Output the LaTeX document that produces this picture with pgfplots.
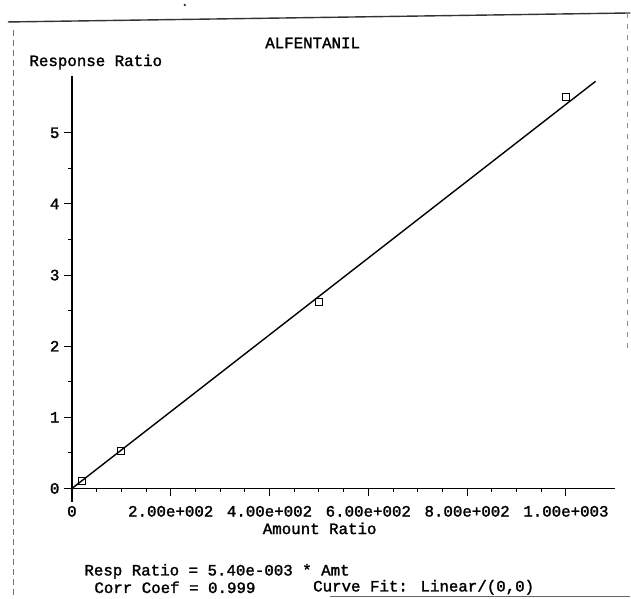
\documentclass[border=0pt]{standalone}
\usepackage{pgfplots}
\pgfplotsset{compat=1.18}
\usepackage{fontspec}
\setmainfont{Liberation Mono}[BoldFont=Liberation Mono, BoldFeatures={FakeBold=1.6}]
\begin{document}
\begin{tikzpicture}[x=1pt,y=1pt,font=\fontsize{15.8}{18}\selectfont\bfseries]
% page area
\path[fill=white] (0,0) rectangle (631,599);
% printout frame
\draw[line width=1.4pt,black!80] (8,577) -- (631,586);
\draw[line width=0.8pt,black!55,dash pattern=on 6pt off 4pt] (13,569) -- (13,0);
\draw[line width=0.8pt,black!45,dash pattern=on 5pt off 6pt] (628,586) -- (628,250);
\draw[line width=1pt,black!60] (330,1.5) -- (631,1.5);
\fill[black!80] (185,594) circle (1.3);

\begin{axis}[
  at={(72pt,110pt)}, anchor=south west,
  scale only axis, width=544pt, height=413pt,
  xmin=0, xmax=1100, ymin=0, ymax=5.8,
  axis lines*=left,
  axis line style={line width=1.5pt, black},
  xtick={0,200,400,600,800,1000},
  xticklabels={0,2.00e+002,4.00e+002,6.00e+002,8.00e+002,1.00e+003},
  ytick={0,1,2,3,4,5},
  yticklabels={0,1,2,3,4,5},
  minor x tick num=3, minor y tick num=1,
  tick align=outside,
  major tick length=8pt, minor tick length=4pt,
  tick style={line width=1pt, black},
  ticklabel style={font=\fontsize{15.8}{18}\selectfont\bfseries, text=black},
  xticklabel style={yshift=-6pt},
  yticklabel style={xshift=-1pt},
  clip=false,
]
% least-squares line through the origin
\addplot[no marks, line width=1.4pt, black] coordinates {(0,0) (1060,5.724)};
% calibration levels
\addplot[only marks, mark=square, mark size=3.5pt,
  mark options={line width=1pt, black, fill=none}]
  coordinates {(20,0.11) (100,0.53) (500,2.62) (1000,5.50)};
\draw[line width=1.5pt] (axis cs:0,0) -- ++(0,-14pt);
\end{axis}

\node[text=black] at (313,556) {ALFENTANIL};
\node[anchor=west,text=black] at (26,537) {Response Ratio};
\node[text=black] at (320,70) {Amount Ratio};
\node[anchor=west,text=black] at (81,27) {Resp Ratio = 5.40e-003 * Amt};
\node[anchor=west,text=black] at (91,11) {Corr Coef = 0.999};
\node[anchor=west,text=black] at (310,11) {Curve Fit: Linear/(0,0)};
\end{tikzpicture}
\end{document}
